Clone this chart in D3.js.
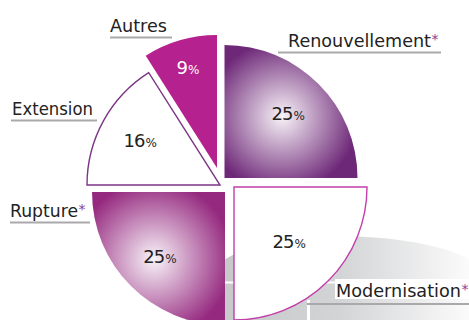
<!DOCTYPE html>
<html>
<head>
<meta charset="utf-8">
<script src="https://cdn.jsdelivr.net/npm/d3@7/dist/d3.min.js"></script>
<style>
  html, body { margin: 0; padding: 0; background: #fff; }
  svg { display: block; }
  text { font-family: "DejaVu Sans", sans-serif; }
</style>
</head>
<body>
<script>
"use strict";

// data
var categories = ["Renouvellement", "Modernisation", "Rupture", "Extension", "Autres"];
var values = [25, 25, 25, 16, 9];
var starred = [true, true, true, false, false];

var width = 469;
var height = 320;
var radius = 133;

// each slice is pulled out by its own amount
var centers = [[224.5, 178], [234, 187], [225, 192], [220, 185], [217, 168]];
var labelRadius = [90, 78, 92, 91, 104];
var fills = ["url(#gRen)", "#ffffff", "url(#gRup)", "#ffffff", "#b5218e"];
var strokes = ["none", "#c23ea9", "none", "#7b3585", "none"];
var pctColor = ["#222", "#222", "#222", "#222", "#fff"];

// category labels: x, baseline, text width, underline x0/x1/y
var nameLayout = [
  { x: 288, y: 46.5, w: 143, l0: 278, l1: 441, ly: 52.5 },
  { x: 336, y: 296.5, w: 125, l0: 307, l1: 469, ly: 304 },
  { x: 10, y: 216.5, w: 68, l0: 10, l1: 90, ly: 222.5 },
  { x: 12, y: 115, w: 81, l0: 11, l1: 97, ly: 120.5 },
  { x: 110, y: 31.5, w: 57, l0: 110, l1: 172, ly: 37.5 }
];

var svg = d3.select("body").append("svg").attr("width", width).attr("height", height);
var defs = svg.append("defs");

var pie = d3.pie().sort(null).value(function (d) { return d; });
var arcs = pie(values);
var arc = d3.arc().innerRadius(0).outerRadius(radius);

// label offset from the slice's own center
function labelOffset(i) {
  var a = (arcs[i].startAngle + arcs[i].endAngle) / 2;
  return [labelRadius[i] * Math.sin(a), -labelRadius[i] * Math.cos(a)];
}

// Gradients (in the slice's local coordinates)

function radial(id, i, dark, r) {
  var p = labelOffset(i);
  var g = defs.append("radialGradient").attr("id", id)
    .attr("gradientUnits", "userSpaceOnUse")
    .attr("cx", p[0] - 6).attr("cy", p[1] + 2).attr("r", r);
  g.append("stop").attr("offset", 0).attr("stop-color", "#f8f3f8");
  g.append("stop").attr("offset", 0.4).attr("stop-color", d3.interpolateRgb("#f8f3f8", dark)(0.5));
  g.append("stop").attr("offset", 0.8).attr("stop-color", dark);
  g.append("stop").attr("offset", 1).attr("stop-color", dark);
}
radial("gRen", 0, "#6e2878", 95);
radial("gRup", 2, "#95297f", 98);

var bg = defs.append("linearGradient").attr("id", "gBg")
  .attr("gradientUnits", "userSpaceOnUse")
  .attr("x1", 210).attr("y1", 0).attr("x2", 469).attr("y2", 0);
bg.append("stop").attr("offset", 0).attr("stop-color", "#c6c7c9");
bg.append("stop").attr("offset", 0.5).attr("stop-color", "#d3d4d6");
bg.append("stop").attr("offset", 1).attr("stop-color", "#fbfbfb");

// Background swoosh

svg.append("path")
  .attr("d", "M185,322 C190,262 250,236 335,236 C400,236 450,247 475,262 L475,322 Z")
  .attr("fill", "url(#gBg)");
svg.append("rect").attr("x", 335).attr("y", 279).attr("width", 140).attr("height", 20).attr("fill", "#fff");
svg.append("line").attr("x1", 200).attr("x2", 340).attr("y1", 282.5).attr("y2", 282.5)
  .attr("stroke", "#fff").attr("stroke-width", 2);
svg.append("line").attr("x1", 222).attr("y1", 245).attr("x2", 236).attr("y2", 253)
  .attr("stroke", "#fff").attr("stroke-width", 3);
svg.append("rect").attr("x", 307).attr("y", 300).attr("width", 3).attr("height", 20).attr("fill", "#fff");

// Draw slices

svg.selectAll("path.slice").data(arcs).enter().append("path")
  .attr("class", "slice")
  .attr("transform", function (d, i) { return "translate(" + centers[i][0] + "," + centers[i][1] + ")"; })
  .attr("d", arc)
  .attr("fill", function (d, i) { return fills[i]; })
  .attr("stroke", function (d, i) { return strokes[i]; })
  .attr("stroke-width", 1.4);

// percentages

var pct = svg.selectAll("text.pct").data(arcs).enter().append("text")
  .attr("class", "pct")
  .attr("text-anchor", "middle")
  .attr("x", function (d, i) { return centers[i][0] + labelOffset(i)[0]; })
  .attr("y", function (d, i) { return centers[i][1] + labelOffset(i)[1] + 6; })
  .attr("fill", function (d, i) { return pctColor[i]; });
pct.append("tspan").attr("font-size", 18).attr("letter-spacing", -1)
  .text(function (d) { return d.data; });
pct.append("tspan").attr("font-size", 12).attr("dx", 1).text("%");

// category names with underlines

categories.forEach(function (name, i) {
  var L = nameLayout[i];
  svg.append("line").attr("x1", L.l0).attr("x2", L.l1).attr("y1", L.ly).attr("y2", L.ly)
    .attr("stroke", "#a9a9ab").attr("stroke-width", 2);
  svg.append("text").attr("x", L.x).attr("y", L.y)
    .attr("font-size", 17).attr("fill", "#222")
    .attr("textLength", L.w).attr("lengthAdjust", "spacingAndGlyphs")
    .text(name);
  if (starred[i]) {
    svg.append("text").attr("x", L.x + L.w + 0.5).attr("y", L.y - 3)
      .attr("font-size", 14).attr("fill", "#8b3d96")
      .text("*");
  }
});
</script>
</body>
</html>
